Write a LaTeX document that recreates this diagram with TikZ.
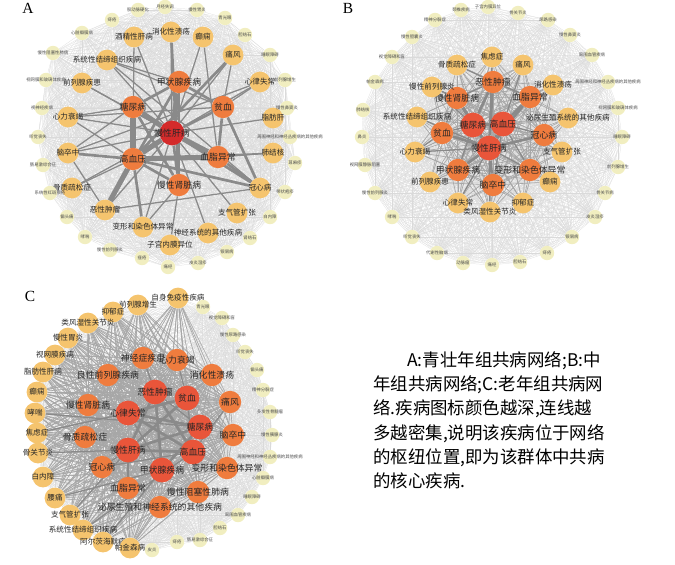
\documentclass[tikz,border=0pt]{standalone}
\usepackage{fontspec}
\setmainfont{Liberation Serif}
\newfontfamily\cjk{Noto Sans CJK SC}
\usepackage{tikz}
\usetikzlibrary{backgrounds}

\definecolor{hubred}{HTML}{D42B2B}
\definecolor{hubdark}{HTML}{E9553A}
\definecolor{huborange}{HTML}{EF7C3E}
\definecolor{ringorange}{HTML}{F5C46E}
\definecolor{ringyellow}{HTML}{F1EEC0}
\definecolor{edgegray}{HTML}{8A8A8A}
\definecolor{meshgray}{HTML}{DADADA}

\tikzset{
  dot/.style={circle, inner sep=0pt, draw=none},
  bigtxt/.style={font=\cjk\fontsize{6.3}{7}\selectfont, text=black!85, inner sep=0pt},
  midtxt/.style={font=\cjk\fontsize{5.4}{6}\selectfont, text=black!85, inner sep=0pt},
  tinytxt/.style={font=\cjk\fontsize{3.1}{4}\selectfont, text=black!70, inner sep=0pt},
  redhub/.style={dot, fill=hubred, minimum size=0.62cm, label={[bigtxt]center:#1}},
  darkhub/.style={dot, fill=hubdark, minimum size=0.62cm, label={[bigtxt]center:#1}},
  hub/.style={dot, fill=huborange, minimum size=0.56cm, label={[bigtxt]center:#1}},
  ring/.style={dot, fill=ringorange, minimum size=0.52cm, label={[midtxt]center:#1}},
  outer/.style={dot, fill=ringyellow, minimum size=0.36cm, label={[tinytxt]center:#1}},
  mesh/.style={draw=meshgray, line width=0.15pt},
  spoke/.style={draw=edgegray!75, line width=0.45pt},
  slim/.style={draw=edgegray, line width=0.9pt},
  medium/.style={draw=edgegray, line width=1.9pt},
  heavy/.style={draw=edgegray, line width=3.6pt},
  capline/.style={anchor=base west, font=\cjk\fontsize{12.4}{17.4}\selectfont, inner sep=0pt},
  panel/.style={font=\fontsize{11}{11}\selectfont, inner sep=0pt}
}

\begin{document}
\begin{tikzpicture}[x=0.025cm, y=-0.025cm]
\useasboundingbox (0,0) rectangle (675,564);

% Panel letters
\node[panel] (la) at (28,8) {A};
\node[panel] (lb) at (348,8) {B};
\node[panel] (lc) at (30,296) {C};

% Panel A nodes
\node[redhub=慢性肝病] (a0) at (172,133) {};
\foreach \n/\x/\y/\t in {a1/179/82/甲状腺疾病, a2/133/107/糖尿病, a3/223/107/贫血,
    a4/133/159/高血压, a5/218/157/血脂异常, a6/179/185/慢性肾脏病}
  \node[hub=\t] (\n) at (\x,\y) {};
\foreach \n/\x/\y/\t in {a7/134/37/酒精性肝病, a8/171/32/消化性溃疡, a9/203/37/癫痫,
    a10/233/55/痛风, a11/260/82/心律失常, a12/273/118/脂肪肝, a13/273/153/肺结核,
    a14/260/188/冠心病, a15/237/213/支气管扩张, a16/208/233/神经系统的其他疾病,
    a17/170/245/子宫内膜异位, a18/143/227/变形和染色体异常, a19/105/210/恶性肿瘤,
    a20/72/188/骨质疏松症, a21/68/153/脑卒中, a22/68/117/心力衰竭,
    a23/82/83/前列腺疾患, a24/107/60/系统性结缔组织疾病}
  \node[ring=\t] (\n) at (\x,\y) {};
\foreach \n/\x/\y/\t in {a25/112/20/痔疮, a26/138/10/股动脉硬化, a27/165/7/月经失调,
    a28/197/10/慢性胃炎, a29/225/18/青光眼, a30/245/35/胆结石, a31/270/55/睡眠障碍,
    a32/285/80/前列腺增生, a33/287/108/慢性鼻窦炎, a34/290/137/周围神经和神经丛疾病的其他疾病,
    a35/295/163/荨麻疹, a36/285/192/带状疱疹, a37/270/217/白内障, a38/250/238/肾结石,
    a39/227/252/银屑病, a40/198/263/皮炎湿疹, a41/168/267/痛经, a42/142/258/痤疮,
    a43/110/250/慢性前列腺炎, a44/85/237/哮喘, a45/67/217/偏头痛, a46/50/193/系统性红斑狼疮,
    a47/43/165/肠易激综合征, a48/38/137/听觉丧失, a49/42/108/视神经疾病,
    a50/46/80/视网膜和玻璃体疾病, a51/53/53/慢性阻塞性肺病, a52/82/33/心脏瓣膜病}
  \node[outer=\t] (\n) at (\x,\y) {};

% Panel B nodes
\foreach \n/\x/\y/\t in {b0/489/148/慢性肝病, b1/473/125/糖尿病, b2/503/124/高血压}
  \node[darkhub=\t] (\n) at (\x,\y) {};
\foreach \n/\x/\y/\t in {b3/442/133/贫血, b4/544/135/冠心病, b5/457/98/慢性肾脏病,
    b6/493/82/恶性肿瘤, b7/530/97/血脂异常, b8/458/170/甲状腺疾病, b9/493/185/脑卒中,
    b10/530/170/变形和染色体异常}
  \node[hub=\t] (\n) at (\x,\y) {};
\foreach \n/\x/\y/\t in {b11/457/65/骨质疏松症, b12/492/57/焦虑症, b13/523/65/痛风,
    b14/432/87/慢性前列腺炎, b15/553/85/消化性溃疡, b16/417/117/系统性结缔组织疾病,
    b17/568/118/泌尿生殖系统的其他疾病, b18/415/152/心力衰竭, b19/562/152/支气管扩张,
    b20/430/182/前列腺疾患, b21/550/182/癫痫, b22/458/203/心律失常,
    b23/490/212/类风湿性关节炎, b24/523/203/抑郁症}
  \node[ring=\t] (\n) at (\x,\y) {};
\foreach \n/\x/\y/\t in {b25/435/20/精神分裂症, b26/461/10/颈椎疾病, b27/488/7/子宫内膜异位,
    b28/518/13/骨关节炎, b29/548/20/尿路感染, b30/570/35/慢性鼻窦炎, b31/592/55/周围血管疾病,
    b32/608/82/周围神经和神经丛疾病的其他疾病, b33/618/108/视网膜和玻璃体疾病,
    b34/622/137/睡眠障碍, b35/618/167/前列腺增生, b36/605/193/骨关节病, b37/595/217/皮炎湿疹,
    b38/572/237/银屑病, b39/547/253/痔疮, b40/520/262/胆结石, b41/492/265/痛经,
    b42/463/263/动脉瘤, b43/437/253/代谢性脑病, b44/412/237/听觉丧失, b45/392/217/哮喘,
    b46/375/193/慢性前列腺炎, b47/365/165/视网膜静脉阻塞, b48/362/137/鼻炎,
    b49/363/110/肺结核, b50/375/82/帕金森病, b51/392/57/视觉障碍和盲, b52/412/37/慢性胆囊炎}
  \node[outer=\t] (\n) at (\x,\y) {};

% Panel C nodes
\foreach \n/\x/\y/\t in {c0/155/392/恶性肿瘤, c1/187/398/贫血, c2/128/413/心律失常,
    c3/200/427/糖尿病, c4/128/450/慢性肝病, c5/193/452/高血压, c6/162/470/甲状腺疾病}
  \node[darkhub=\t] (\n) at (\x,\y) {};
\foreach \n/\x/\y/\t in {c7/143/358/神经症疾患, c8/177/360/心力衰竭, c9/108/375/良性前列腺疾病,
    c10/212/375/消化性溃疡, c11/88/405/慢性肾脏病, c12/230/402/痛风, c13/85/437/骨质疏松症,
    c14/233/435/脑卒中, c15/102/467/冠心病, c16/227/468/变形和染色体异常, c17/128/488/血脂异常,
    c18/198/492/慢性阻塞性肺病, c19/160/507/泌尿生殖和神经系统的其他疾病}
  \node[hub=\t] (\n) at (\x,\y) {};
\foreach \n/\x/\y/\t in {c20/178/298/自身免疫性疾病, c21/138/305/前列腺增生, c22/113/312/抑郁症,
    c23/88/323/类风湿性关节炎, c24/68/338/慢性胃炎, c25/55/355/视网膜疾病, c26/43/372/脂肪性肝病,
    c27/37/392/癫痫, c28/35/413/哮喘, c29/37/433/焦虑症, c30/38/453/骨关节炎, c31/43/477/白内障,
    c32/55/498/腰痛, c33/70/515/支气管扩张, c34/83/530/系统性结缔组织疾病,
    c35/103/542/阿尔茨海默病, c36/130/548/帕金森病}
  \node[ring=\t] (\n) at (\x,\y) {};
\foreach \n/\x/\y/\t in {c37/203/307/青光眼, c38/222/318/视觉障碍和盲, c39/233/335/慢性尿路感染,
    c40/245/352/听觉丧失, c41/257/370/偏头痛, c42/263/390/精神分裂症, c43/270/412/多发性骨髓瘤,
    c44/272/435/慢性胰腺炎, c45/270/457/周围神经和神经丛疾病的其他疾病, c46/263/478/心脏瓣膜病,
    c47/252/497/睡眠障碍, c48/238/515/周围血管疾病, c49/220/528/胆结石, c50/200/540/肠易激综合征,
    c51/177/542/痔疮, c52/152/550/皮炎}
  \node[outer=\t] (\n) at (\x,\y) {};

% Caption
\node[capline] (l1) at (407,366) {A:青壮年组共病网络;B:中};
\node[capline] (l2) at (373,390) {年组共病网络;C:老年组共病网};
\node[capline] (l3) at (373,414.5) {络.疾病图标颜色越深,连线越};
\node[capline] (l4) at (373,439) {多越密集,说明该疾病位于网络};
\node[capline] (l5) at (373,463) {的枢纽位置,即为该群体中共病};
\node[capline] (l6) at (373,487) {的核心疾病.};

% Lines
\begin{pgfonlayer}{background}
\foreach \p in {a,b,c}{
  \foreach \i in {0,...,51}{
    \pgfmathtruncatemacro\k{\i+1}
    \foreach \j in {\k,...,52}
      \draw[mesh] (\p\i) -- (\p\j);
  }
}
\foreach \i in {0,...,10}{
  \pgfmathtruncatemacro\k{\i+1}
  \foreach \j in {\k,...,24}
    \draw[spoke] (b\i) -- (b\j);
}
\foreach \i in {0,...,19}{
  \pgfmathtruncatemacro\k{\i+1}
  \foreach \j in {\k,...,36}
    \draw[spoke] (c\i) -- (c\j);
}
% panel A weighted links
\foreach \u/\v in {a0/a4, a2/a4, a0/a2, a4/a19, a0/a1, a0/a5, a4/a5}
  \draw[heavy] (\u) -- (\v);
\foreach \u/\v in {a0/a3, a0/a6, a1/a2, a1/a3, a4/a21, a4/a14, a0/a14, a5/a14, a4/a18,
    a1/a6, a2/a6, a3/a5, a4/a6, a1/a19, a10/a4, a3/a14, a8/a6}
  \draw[medium] (\u) -- (\v);
\foreach \u/\v in {a0/a7, a0/a8, a0/a9, a0/a10, a0/a11, a0/a21, a0/a22, a0/a23, a0/a24,
    a0/a18, a0/a20, a0/a19, a1/a24, a2/a22, a2/a21, a3/a11, a3/a10, a4/a22, a4/a20,
    a5/a13, a6/a17, a6/a18, a7/a4, a9/a5, a12/a0, a13/a4, a14/a19, a15/a0, a16/a0,
    a2/a14, a19/a21, a23/a0, a24/a3, a11/a21, a22/a3, a24/a14}
  \draw[slim] (\u) -- (\v);
% panel B weighted links
\foreach \u/\v in {b0/b1, b0/b2, b1/b2, b0/b6, b0/b3, b0/b5, b0/b8, b1/b5, b2/b7, b0/b7,
    b0/b9, b0/b4, b1/b6}
  \draw[medium] (\u) -- (\v);
\foreach \u/\v in {b1/b3, b2/b4, b2/b9, b1/b8, b5/b6, b6/b7, b0/b10, b2/b10, b3/b18,
    b0/b16, b0/b18, b0/b22, b0/b12, b2/b13, b1/b14, b5/b14, b6/b11, b0/b23, b3/b5}
  \draw[slim] (\u) -- (\v);
% panel C weighted links
\foreach \u/\v in {c0/c4, c2/c5, c3/c4, c0/c5, c1/c4, c2/c3, c4/c5, c3/c6, c0/c6, c1/c2}
  \draw[medium] (\u) -- (\v);
\foreach \u/\v in {c0/c3, c1/c5, c2/c6, c4/c15, c5/c15, c4/c30, c4/c33, c5/c34, c2/c11,
    c6/c35, c3/c28, c0/c7, c1/c8, c4/c17, c5/c12, c2/c29, c6/c32}
  \draw[slim] (\u) -- (\v);
\end{pgfonlayer}

\end{tikzpicture}
\end{document}
